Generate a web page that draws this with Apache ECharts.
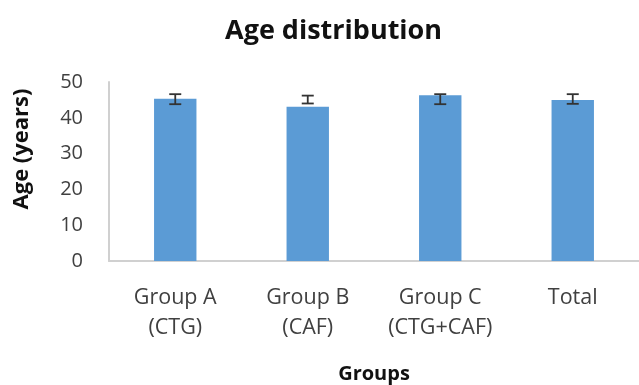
<!DOCTYPE html>
<html>
<head>
<meta charset="utf-8">
<script src="https://cdn.jsdelivr.net/npm/echarts@6/dist/echarts.min.js"></script>
<style>html,body{margin:0;padding:0;background:#fff}#c{width:639px;height:385px}</style>
</head>
<body>
<div id="c"></div>
<script>
const categories = ['Group A\n(CTG)', 'Group B\n(CAF)', 'Group C\n(CTG+CAF)', 'Total'];
const meanAge = [45.3, 43.1, 46.3, 45.0];
const errLow = [43.8, 44.0, 43.8, 43.9];
const errHigh = [46.6, 46.2, 46.6, 46.6];
const yTicks = [0, 10, 20, 30, 40, 50];

const chart = echarts.init(document.getElementById('c'), null, {renderer: 'canvas'});
const font = '"Open Sans", "Noto Sans", sans-serif';
chart.setOption({
  animation: false,
  title: {
    text: 'Age distribution', left: 220, top: 13,
    textStyle: {fontFamily: font, fontSize: 27, fontWeight: 'bold', color: '#111'}
  },
  graphic: [{
    type: 'text', x: 22, y: 149, rotation: Math.PI / 2,
    style: {text: 'Age (years)', fontFamily: font, fontSize: 22, fontWeight: 'bold',
      fill: '#111', align: 'center', verticalAlign: 'middle'}
  }],
  grid: {left: 109, width: 541, top: 82, bottom: 123},
  xAxis: {
    type: 'category', data: categories,
    name: 'Groups', nameLocation: 'middle', nameGap: 103,
    nameTextStyle: {fontFamily: font, fontSize: 20, fontWeight: 'bold', color: '#111'},
    axisLine: {lineStyle: {color: '#d0d0d0', width: 2}},
    axisTick: {show: false},
    axisLabel: {interval: 0, hideOverlap: false, fontFamily: font, fontSize: 21.5, color: '#404040', lineHeight: 30, margin: 22}
  },
  yAxis: {
    type: 'value', min: yTicks[0], max: yTicks[yTicks.length - 1], interval: 10,
    axisLine: {show: true, lineStyle: {color: '#d0d0d0', width: 2}},
    axisTick: {show: false},
    splitLine: {show: false},
    axisLabel: {fontFamily: font, fontSize: 20, color: '#404040', margin: 26}
  },
  series: [
    {
      type: 'bar', data: meanAge, barWidth: '32%',
      itemStyle: {color: '#5b9bd5'}
    },
    {
      type: 'custom',
      data: categories.map((c, i) => [i, errLow[i], errHigh[i]]),
      renderItem: function (params, api) {
        const lo = api.coord([api.value(0), api.value(1)]);
        const hi = api.coord([api.value(0), api.value(2)]);
        const hw = 6;
        const st = {stroke: '#333', lineWidth: 1.8};
        return {
          type: 'group',
          children: [
            {type: 'line', shape: {x1: lo[0], y1: lo[1], x2: hi[0], y2: hi[1]}, style: st},
            {type: 'line', shape: {x1: lo[0] - hw, y1: lo[1], x2: lo[0] + hw, y2: lo[1]}, style: st},
            {type: 'line', shape: {x1: hi[0] - hw, y1: hi[1], x2: hi[0] + hw, y2: hi[1]}, style: st}
          ]
        };
      },
      z: 5
    }
  ]
});
</script>
</body>
</html>
